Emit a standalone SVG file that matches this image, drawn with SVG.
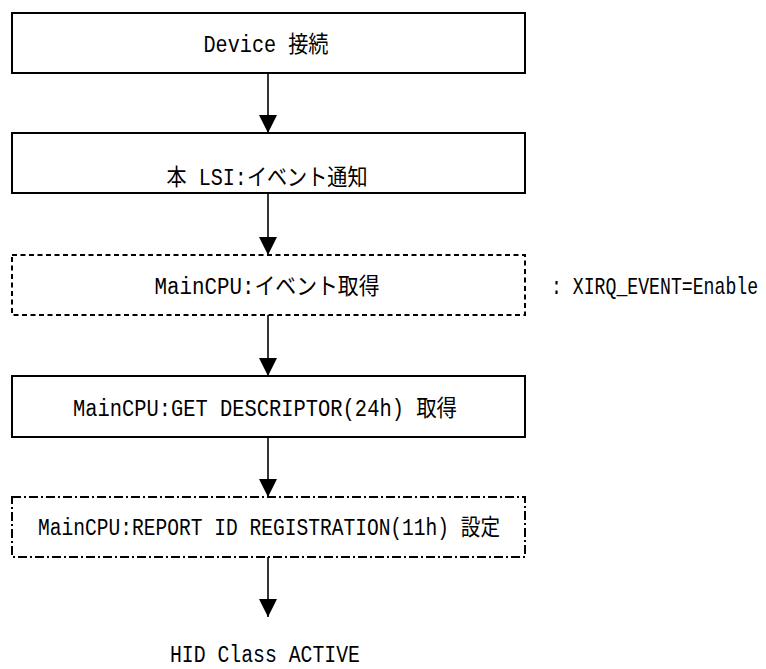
<svg xmlns="http://www.w3.org/2000/svg" width="766" height="669" viewBox="0 0 766 669">
  <style>
    .box { fill: #ffffff; stroke: #000000; stroke-width: 2; }
    .dash { fill: #ffffff; stroke: #000000; stroke-width: 2; stroke-dasharray: 5 3.5; }
    .dashdot { fill: #ffffff; stroke: #000000; stroke-width: 2; stroke-dasharray: 9 3 2 3; }
    .lbl { font-family: "Liberation Mono", "Noto Sans CJK JP", monospace; font-size: 23px; fill: #000000; }
    .link { stroke: #000000; stroke-width: 1.6; fill: none; }
  </style>
  <defs>
    <marker id="head" markerUnits="userSpaceOnUse" markerWidth="18" markerHeight="18" refX="18" refY="9" orient="auto">
      <path d="M0,0 L18,9 L0,18 Z" fill="#000000"/>
    </marker>
  </defs>

  <g id="connectors">
    <line class="link" x1="268" y1="73" x2="268" y2="133" marker-end="url(#head)"/>
    <line class="link" x1="268" y1="193" x2="268" y2="255" marker-end="url(#head)"/>
    <line class="link" x1="268" y1="315" x2="268" y2="376" marker-end="url(#head)"/>
    <line class="link" x1="268" y1="437" x2="268" y2="497" marker-end="url(#head)"/>
    <line class="link" x1="268" y1="557" x2="268" y2="617" marker-end="url(#head)"/>
  </g>

  <g id="device-connect">
    <rect class="box" x="12" y="13" width="513" height="60"/>
    <text class="lbl" x="266" y="52" text-anchor="middle" textLength="125" lengthAdjust="spacingAndGlyphs">Device 接続</text>
  </g>

  <g id="lsi-event">
    <rect class="box" x="12" y="133" width="513" height="60"/>
    <text class="lbl" x="267" y="185" text-anchor="middle" textLength="201" lengthAdjust="spacingAndGlyphs">本 LSI:イベント通知</text>
  </g>

  <g id="cpu-event">
    <rect class="dash" x="12" y="255" width="513" height="60"/>
    <text class="lbl" x="267" y="294" text-anchor="middle" textLength="225" lengthAdjust="spacingAndGlyphs">MainCPU:イベント取得</text>
  </g>

  <!-- side note, narrowed horizontally so it stays inside the canvas -->
  <g id="irq-note" transform="translate(551 294) scale(0.79 1)">
    <text class="lbl" x="0" y="0">: XIRQ_EVENT=Enable</text>
  </g>

  <g id="get-descriptor">
    <rect class="box" x="12" y="376" width="513" height="61"/>
    <text class="lbl" x="265" y="416" text-anchor="middle" textLength="384" lengthAdjust="spacingAndGlyphs">MainCPU:GET DESCRIPTOR(24h) 取得</text>
  </g>

  <g id="report-id">
    <rect class="dashdot" x="12" y="497" width="513" height="60"/>
    <text class="lbl" x="269" y="535" text-anchor="middle" textLength="462" lengthAdjust="spacingAndGlyphs">MainCPU:REPORT ID REGISTRATION(11h) 設定</text>
  </g>

  <g id="hid-active">
    <text class="lbl" x="265" y="662" text-anchor="middle" textLength="190" lengthAdjust="spacingAndGlyphs">HID Class ACTIVE</text>
  </g>
</svg>
